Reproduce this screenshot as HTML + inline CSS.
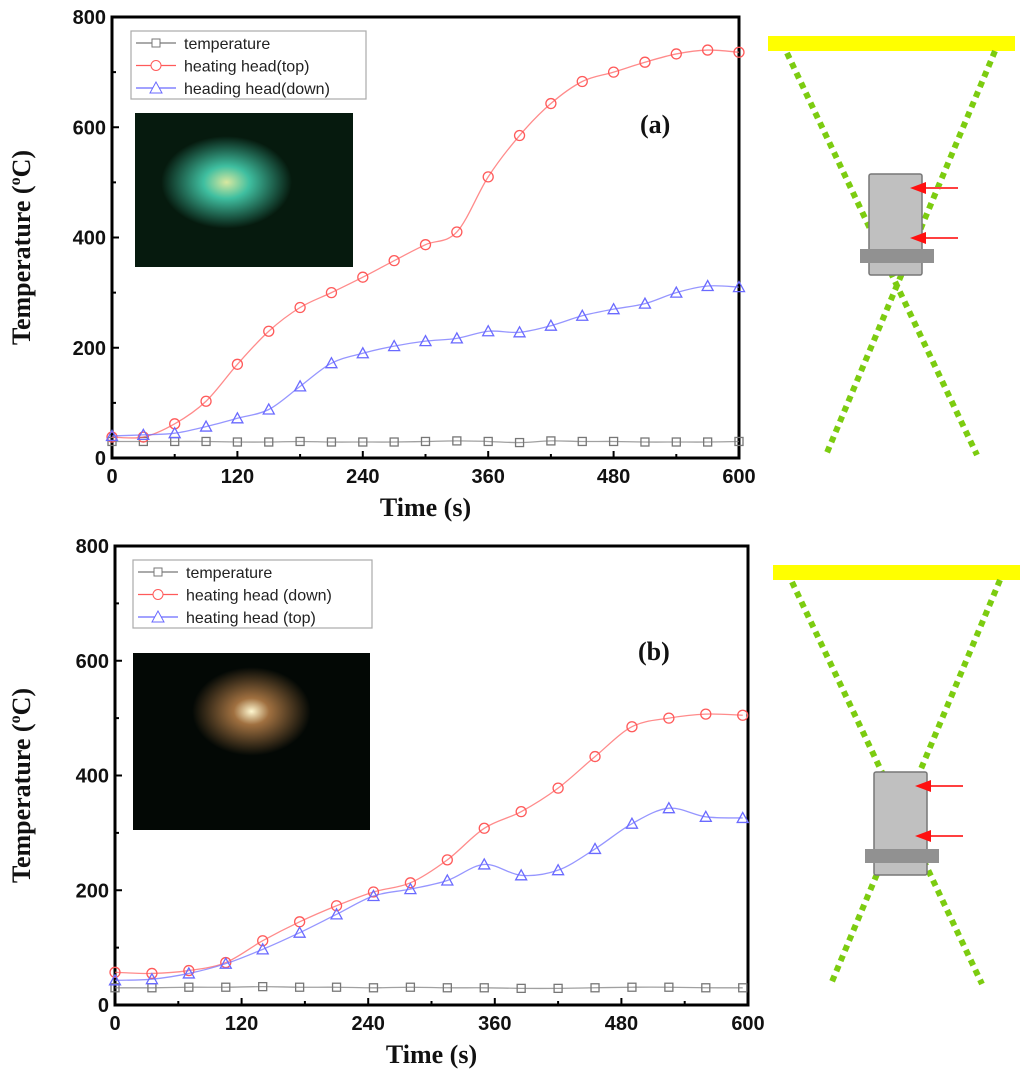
<!DOCTYPE html>
<html><head><meta charset="utf-8"><style>
body{margin:0;background:#fff;width:1024px;height:1077px;overflow:hidden}
svg{display:block}
.tk{font:bold 20px "Liberation Sans",sans-serif;fill:#111}
.tt{font:bold 26px "Liberation Serif",serif;fill:#111}
.lg{font:16px "Liberation Sans",sans-serif;fill:#222}
</style></head><body>
<svg id="s" width="1024" height="1077">
<defs>
<radialGradient id="g1" cx="0.42" cy="0.45" r="0.3"><stop offset="0" stop-color="#d8e8a0"/><stop offset="0.35" stop-color="#3fbfa0"/><stop offset="1" stop-color="#061a0e"/></radialGradient>
<radialGradient id="g2" cx="0.5" cy="0.33" r="0.25"><stop offset="0" stop-color="#fff8d0"/><stop offset="0.3" stop-color="#a07040"/><stop offset="1" stop-color="#030805"/></radialGradient>
</defs>
</svg>
<script>
const xTicks=[0,120,240,360,480,600];
const yTicks=[0,200,400,600,800];
const tA=[0,30,60,90,120,150,180,210,240,270,300,330,360,390,420,450,480,510,540,570,600];
const aGray=[30,30,30,30,29,29,30,29,29,29,30,31,30,28,31,30,30,29,29,29,30];
const aRed=[38,38,62,103,170,230,273,300,328,358,387,410,510,585,643,683,700,718,733,740,736];
const aBlue=[40,42,45,57,72,88,130,172,190,203,212,217,230,228,240,258,270,280,300,312,310];
const tB=[0,35,70,105,140,175,210,245,280,315,350,385,420,455,490,525,560,595];
const bGray=[30,30,31,31,32,31,31,30,31,30,30,29,29,30,31,31,30,30];
const bRed=[57,55,60,74,112,145,173,197,213,253,308,337,378,433,485,500,507,505];
const bBlue=[43,45,55,72,97,126,158,190,202,217,245,226,235,272,316,343,328,326];
const NS='http://www.w3.org/2000/svg';
const svg=document.getElementById('s');
function mk(tag,at,parent){const e=document.createElementNS(NS,tag);for(const k in at)e.setAttribute(k,at[k]);(parent||svg).appendChild(e);return e;}
function smooth(p){let d='M'+p[0][0]+','+p[0][1];
  for(let i=0;i<p.length-1;i++){const a=p[i-1]||p[i],b=p[i],c=p[i+1],e=p[i+2]||c;
    const c1=[b[0]+(c[0]-a[0])/6,b[1]+(c[1]-a[1])/6],c2=[c[0]-(e[0]-b[0])/6,c[1]-(e[1]-b[1])/6];
    d+=` C${c1[0]},${c1[1]} ${c2[0]},${c2[1]} ${c[0]},${c[1]}`;}
  return d;}
function chart(P,t,series,labels,tag,insetGrad){
  const g=mk('g',{});
  
  
  const X=v=>P.x0+(P.x1-P.x0)*v/600, Y=v=>P.y0-(P.y0-P.y1)*v/800;
  const im=mk('rect',{x:P.ix,y:P.iy,width:P.iw,height:P.ih,fill:'url(#'+insetGrad+')'},g);
  
  
  xTicks.forEach((v,i)=>{mk('line',{x1:X(v),x2:X(v),y1:P.y0,y2:P.y0-7,stroke:'#000','stroke-width':2},g);
    if(i<xTicks.length-1)mk('line',{x1:X(v+60),x2:X(v+60),y1:P.y0,y2:P.y0-4,stroke:'#000','stroke-width':2},g);
    const tx=mk('text',{x:X(v),y:P.y0+25,'text-anchor':'middle',class:'tk'},g);tx.textContent=v;
    
    });
  yTicks.forEach((v,i)=>{mk('line',{x1:P.x0,x2:P.x0+7,y1:Y(v),y2:Y(v),stroke:'#000','stroke-width':2},g);
    if(i<yTicks.length-1)mk('line',{x1:P.x0,x2:P.x0+4,y1:Y(v+100),y2:Y(v+100),stroke:'#000','stroke-width':2},g);
    const tx=mk('text',{x:P.x0-6,y:Y(v)+7,'text-anchor':'end',class:'tk'},g);tx.textContent=v;
    
    });
  const fr=mk('rect',{x:P.x0,y:P.y1,width:P.x1-P.x0,height:P.y0-P.y1,fill:'none',stroke:'#000','stroke-width':3},g);
  
  
  const cols=['#777','#ff5a5a','#6a6aff'];
  series.forEach((s,si)=>{
    const pl=mk('path',{d:smooth(t.map((v,i)=>[X(v),Y(s[i])])),fill:'none',stroke:cols[si],'stroke-width':1.3,'stroke-opacity':0.7},g);
    
    
    t.forEach((v,i)=>{const cx=X(v),cy=Y(s[i]);let m;
      if(si==0)m=mk('rect',{x:cx-4,y:cy-4,width:8,height:8,fill:'none',stroke:cols[si],'stroke-width':1.3},g);
      else if(si==1)m=mk('circle',{cx:cx,cy:cy,r:5,fill:'none',stroke:cols[si],'stroke-width':1.3},g);
      else m=mk('polygon',{points:`${cx},${cy-5.5} ${cx-5.5},${cy+4.5} ${cx+5.5},${cy+4.5}`,fill:'none',stroke:cols[si],'stroke-width':1.3},g);
      
      });
  });
  const lg=mk('g',{},g);
  
  
  mk('rect',{x:P.lx,y:P.ly,width:P.lw,height:68,fill:'#fff',stroke:'#aaa','stroke-width':1.2},lg);
  labels.forEach((l,i)=>{const yy=P.ly+12+i*22.5;
    mk('line',{x1:P.lx+5,x2:P.lx+45,y1:yy,y2:yy,stroke:cols[i],'stroke-width':1.3},lg);
    const cx=P.lx+25;
    if(i==0)mk('rect',{x:cx-4,y:yy-4,width:8,height:8,fill:'#fff',stroke:cols[i]},lg);
    else if(i==1)mk('circle',{cx:cx,cy:yy,r:5,fill:'#fff',stroke:cols[i]},lg);
    else mk('polygon',{points:`${cx},${yy-6} ${cx-6},${yy+5} ${cx+6},${yy+5}`,fill:'#fff',stroke:cols[i]},lg);
    const tx=mk('text',{x:P.lx+53,y:yy+6,class:'lg'},lg);tx.textContent=l;
    
    });
  const pa=mk('text',{x:P.px,y:P.py,class:'tt','font-size':'30'},g);pa.textContent='('+tag+')';
  
  
  const xt=mk('text',{x:(P.x0+P.x1)/2,y:P.y0+58,'text-anchor':'middle',class:'tt','font-size':'28'},g);xt.textContent='Time (s)';
  
  
  const cy=(P.y0+P.y1)/2+10;
  const yt=mk('text',{x:0,y:0,'text-anchor':'middle',class:'tt',transform:`translate(30,${cy}) rotate(-90)`},g);
  yt.innerHTML='Temperature (<tspan font-size="16" dy="-10">o</tspan><tspan dy="10">C)</tspan>';
  
  
}
chart({x0:112,x1:739,y0:458,y1:17,ix:135,iy:113,iw:218,ih:154,lx:131,ly:31,lw:235,px:640,py:133},tA,[aGray,aRed,aBlue],['temperature','heating head(top)','heading head(down)'],'a','g1');
chart({x0:115,x1:748,y0:1005,y1:546,ix:133,iy:653,iw:237,ih:177,lx:133,ly:560,lw:239,px:638,py:660},tB,[bGray,bRed,bBlue],['temperature','heating head (down)','heating head (top)'],'b','g2');
function diagram(D,tag){
  const g=mk('g',{});
  
  
  const yb=mk('rect',{x:D.x,y:D.y,width:247,height:15,fill:'#ffff00'},g);
  
  
  [[D.x+19,D.y+17,D.x+209,D.y+419],[D.x+227,D.y+15,D.x+58,D.y+419]].forEach(l=>{
    const ln=mk('line',{x1:l[0],y1:l[1],x2:l[2],y2:l[3],stroke:'#7ccc10','stroke-width':6,'stroke-dasharray':'6 5'},g);
    
    });
  const r=mk('rect',{x:D.x+101,y:D.ry,width:53,height:D.rh,rx:2,fill:'#c0c0c0',stroke:'#777','stroke-width':1.5},g);
  
  
  mk('rect',{x:D.x+92,y:D.ry+D.rh-26,width:74,height:14,fill:'#919191'},g);
  [D.ry+14,D.ry+64].forEach(y=>{
    mk('line',{x1:D.x+190,x2:D.x+155,y1:y,y2:y,stroke:'#ff4040','stroke-width':2},g);
    const a=mk('polygon',{points:`${D.x+142},${y} ${D.x+158},${y-6} ${D.x+158},${y+6}`,fill:'#ff1010'},g);
    
    });
}
diagram({x:768,y:36,ry:174,rh:101},'a');
diagram({x:773,y:565,ry:772,rh:103},'b');
</script>
</body></html>
